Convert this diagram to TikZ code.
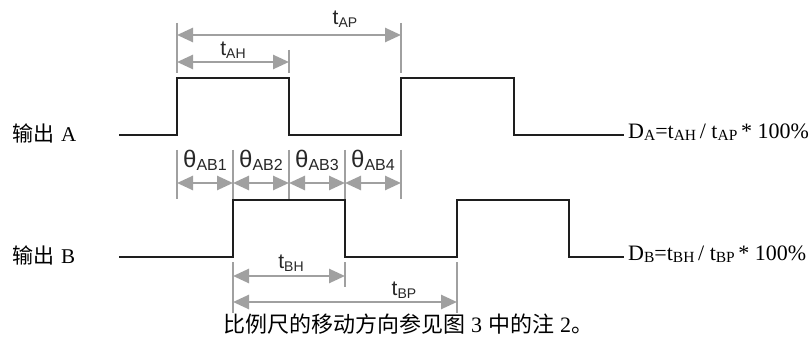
\documentclass[tikz,border=0pt]{standalone}
\usepackage{fontspec}
\setmainfont{Liberation Serif}
\newfontfamily\cjk{Noto Sans CJK SC}
\newfontfamily\arial{Liberation Sans}
\usetikzlibrary{arrows.meta}
\definecolor{dimgray}{RGB}{160,160,160}
\definecolor{wave}{RGB}{30,30,30}
\definecolor{lbl}{RGB}{40,40,40}
\newcommand{\tlab}[2]{{\arial\fontsize{21}{21}\selectfont #1\raisebox{-3pt}{\fontsize{14}{14}\selectfont #2}}}
\newcommand{\thlab}[1]{{\arial\fontsize{24}{24}\selectfont θ\raisebox{-3pt}{\fontsize{16}{16}\selectfont #1}}}
\newcommand{\sbs}[1]{\raisebox{-1.5pt}{\fontsize{15.5}{15.5}\selectfont #1}}
\begin{document}
\begin{tikzpicture}[x=1pt,y=-1pt,
  wavestyle/.style={draw=wave,line width=1.5pt,line join=miter},
  tickstyle/.style={draw=dimgray,line width=1.2pt},
  dimarrow/.style={draw=dimgray,line width=2.6pt,{Triangle[length=16pt,width=14pt]}-{Triangle[length=16pt,width=14pt]}},
  lab/.style={inner sep=0pt,text=lbl},
  eqn/.style={inner sep=0pt,anchor=base west,font=\fontsize{22}{22}\selectfont},
  side/.style={inner sep=0pt,anchor=west,font=\fontsize{21}{21}\selectfont}]
\useasboundingbox (0,0) rectangle (812,342);
\fill[white] (0,0) rectangle (812,342);
% side labels
\node[side] (la) at (12,133) {{\cjk 输出}\hspace{7pt}A};
\node[side] (lb) at (12,255) {{\cjk 输出}\hspace{7pt}B};
% equations
\node[eqn] (da) at (628,139) {D\sbs{A}=t\sbs{AH}\,/ t\sbs{AP}\,* 100\%};
\node[eqn] (db) at (628,261) {D\sbs{B}=t\sbs{BH}\,/ t\sbs{BP}\,* 100\%};
% waveform coordinates
\coordinate (a0) at (119,135);
\coordinate (ea) at (624,135);
\coordinate (b0) at (119,257);
\coordinate (eb) at (624,257);
% waveforms
\draw[wavestyle] (a0) -- (177,135) -- (177,78) -- (289,78) -- (289,135) -- (401,135) -- (401,78) -- (514,78) -- (514,135) -- (ea);
\draw[wavestyle] (b0) -- (233,257) -- (233,200) -- (345,200) -- (345,257) -- (457,257) -- (457,200) -- (569,200) -- (569,257) -- (eb);
% top ticks
\coordinate (ta1) at (177,23); \coordinate (ta1b) at (177,73);
\coordinate (ta2) at (289,50); \coordinate (ta2b) at (289,73);
\coordinate (ta3) at (401,23); \coordinate (ta3b) at (401,73);
\draw[tickstyle] (ta1) -- (ta1b);
\draw[tickstyle] (ta2) -- (ta2b);
\draw[tickstyle] (ta3) -- (ta3b);
\coordinate (ap1) at (177,35); \coordinate (ap2) at (401,35);
\coordinate (ah1) at (177,62); \coordinate (ah2) at (289,62);
\draw[dimarrow] (ap1) -- (ap2);
\draw[dimarrow] (ah1) -- (ah2);
\node[lab] (tap) at (345,19) {\tlab{t}{AP}};
\node[lab] (tah) at (233,50) {\tlab{t}{AH}};
% theta ticks and arrows
\foreach \i/\x in {0/177,1/233,2/289,3/345,4/401}{
  \coordinate (th\i) at (\x,183);
  \draw[tickstyle] (\x,150) -- (\x,199);
}
\draw[dimarrow] (th0) -- (th1);
\draw[dimarrow] (th1) -- (th2);
\draw[dimarrow] (th2) -- (th3);
\draw[dimarrow] (th3) -- (th4);
\node[lab] (q1) at (205,160) {\thlab{AB1}};
\node[lab] (q2) at (261,160) {\thlab{AB2}};
\node[lab] (q3) at (317,160) {\thlab{AB3}};
\node[lab] (q4) at (373,160) {\thlab{AB4}};
% bottom ticks and arrows
\draw[tickstyle] (233,262) -- (233,313);
\draw[tickstyle] (345,262) -- (345,287);
\draw[tickstyle] (457,262) -- (457,313);
\coordinate (bh1) at (233,276); \coordinate (bh2) at (345,276);
\coordinate (bp1) at (233,302); \coordinate (bp2) at (457,302);
\draw[dimarrow] (bh1) -- (bh2);
\draw[dimarrow] (bp1) -- (bp2);
\node[lab] (tbh) at (291,263) {\tlab{t}{BH}};
\node[lab] (tbp) at (404,290) {\tlab{t}{BP}};
% caption
\node[inner sep=0pt,font=\fontsize{22}{22}\selectfont] (cap) at (408,324) {{\cjk 比例尺的移动方向参见图}\hspace{6pt}3\hspace{6pt}{\cjk 中的注}\hspace{6pt}2{\cjk 。}};
\end{tikzpicture}
\end{document}
